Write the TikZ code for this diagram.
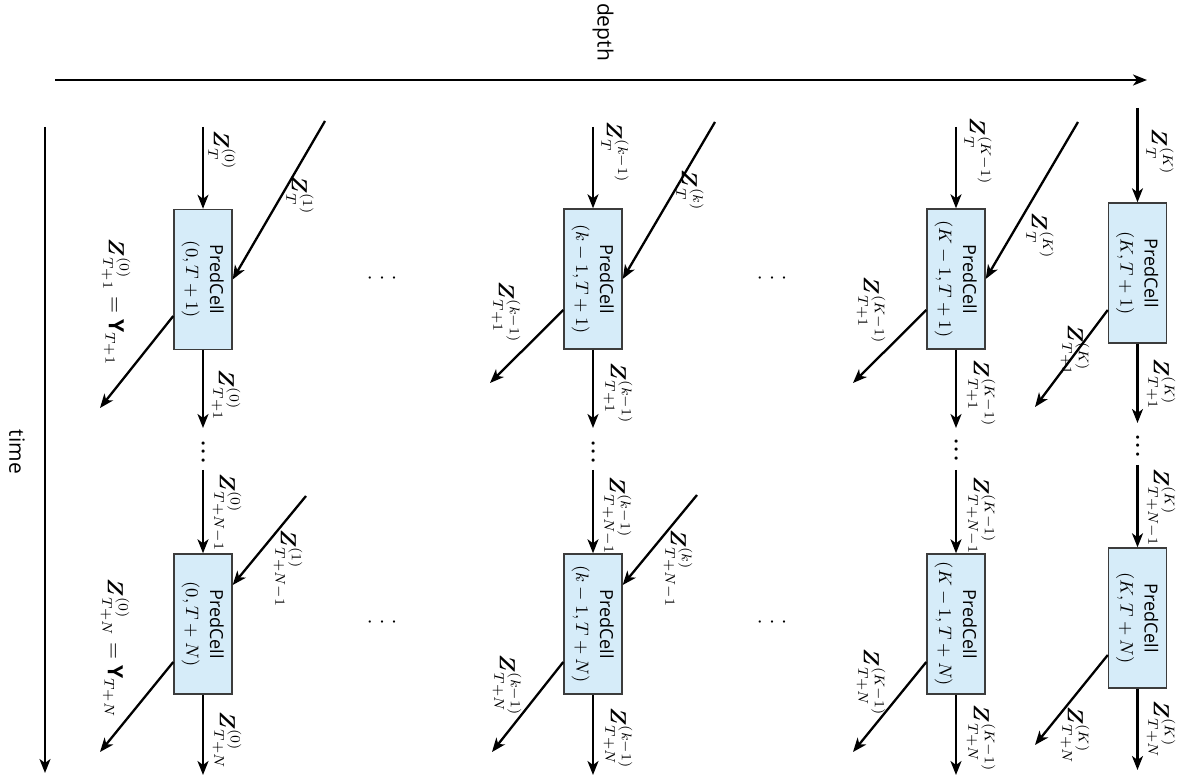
\documentclass[tikz,border=0pt]{standalone}
\usepackage{amsmath}
\usepackage{fontspec}
\setmainfont{Open Sans}
\usetikzlibrary{arrows.meta}

\definecolor{cellblue}{RGB}{214,236,249}
\definecolor{celledge}{RGB}{60,60,60}

% three round dots: #1 = dot scale, #2 = gap
\newcommand\dotrun[2]{\hbox{\scalebox{#1}{$\bullet$}\kern#2\scalebox{#1}{$\bullet$}\kern#2\scalebox{#1}{$\bullet$}}}
% contents of one prediction cell, turned a quarter clockwise
\newcommand\cellbody[1]{\rotatebox{-90}{\fontsize{9}{12}\selectfont
  \begin{tabular}{@{}c@{}}PredCell\\$#1$\end{tabular}}}
\newcommand\Zv{\boldsymbol{Z}}

\begin{document}
\begin{tikzpicture}[x=0.5pt,y=-0.5pt,
  arr/.style={line width=1.15pt,-{Stealth[length=7pt,width=5.5pt,inset=2pt]}},
  cell/.style={draw=celledge,fill=cellblue,line width=0.7pt,
    minimum width=29pt,minimum height=70pt,inner sep=0pt},
  lbl/.style={rotate=-90,inner sep=0pt,font=\fontsize{10.5}{12}\selectfont},
  axislbl/.style={rotate=-90,inner sep=0pt,font=\fontsize{10.5}{12}\selectfont},
  vdotsnode/.style={rotate=-90,inner sep=0pt},
  hdotsnode/.style={inner sep=0pt}]
\useasboundingbox (0,0) rectangle (1180,780);

% axes
\coordinate (depthL) at (55,80);
\coordinate (depthR) at (1147,80);
\draw[arr] (depthL) -- (depthR);
\node[axislbl] (depthlbl) at (603,32) {depth};
\coordinate (timeT) at (45,127);
\coordinate (timeB) at (45,773);
\draw[arr] (timeT) -- (timeB);
\node[axislbl] (timelbl) at (17,452) {time};

% cells
\node[cell] (b0a)  at (203,279.5)  {\cellbody{(0, T+1)}};
\node[cell] (b0b)  at (203,624)    {\cellbody{(0, T+N)}};
\node[cell] (bka)  at (593,279)    {\cellbody{(k-1, T+1)}};
\node[cell] (bkb)  at (593,624)    {\cellbody{(k-1, T+N)}};
\node[cell] (bKma) at (956,279)    {\cellbody{(K-1,T+1)}};
\node[cell] (bKmb) at (956,624)    {\cellbody{(K-1,T+N)}};
\node[cell] (bKa)  at (1137.5,273) {\cellbody{(K, T+1)}};
\node[cell] (bKb)  at (1137.5,618) {\cellbody{(K, T+N)}};

% vertical chains along time
\foreach \c/\x/\yt/\ym/\yd/\yn/\yb in {0/203/127/428/452/470/775,
    k/593/127/428/452/470/775, Km/956/127/428/450/470/775,
    K/1137.5/108/423/446/465/770}{
  \coordinate (top\c) at (\x,\yt);
  \coordinate (midA\c) at (\x,\ym);
  \coordinate (midB\c) at (\x,\yn);
  \coordinate (bot\c) at (\x,\yb);
  \draw[arr] (top\c) -- (b\c a);
  \draw[arr] (b\c a) -- (midA\c);
  \node[vdotsnode] (dots\c) at (\x,\yd) {\dotrun{0.42}{2.1pt}};
  \draw[arr] (midB\c) -- (b\c b);
  \draw[arr] (b\c b) -- (bot\c);
}

% incoming diagonals
\coordinate (in0a) at (325,121);
\coordinate (in0b) at (306,496);
\coordinate (inka) at (715,122);
\coordinate (inkb) at (697,495);
\coordinate (inKma) at (1078,122);
\draw[arr] (in0a) -- (b0a.east);
\draw[arr] (in0b) -- ([yshift=19.5pt]b0b.east);
\draw[arr] (inka) -- (bka.east);
\draw[arr] (inkb) -- ([yshift=19.5pt]bkb.east);
\draw[arr] (inKma) -- (bKma.east);

% outgoing diagonals
\coordinate (out0a) at (100,408);
\coordinate (out0b) at (100,752);
\coordinate (outka) at (490,383);
\coordinate (outkb) at (492,752);
\coordinate (outKma) at (853,383);
\coordinate (outKmb) at (853,752);
\coordinate (outKa) at (1035,407);
\coordinate (outKb) at (1035,745);
\draw[arr] ([yshift=-18.25pt]b0a.west) -- (out0a);
\draw[arr] ([yshift=-19pt]b0b.west) -- (out0b);
\draw[arr] ([yshift=-15.5pt]bka.west) -- (outka);
\draw[arr] ([yshift=-19pt]bkb.west) -- (outkb);
\draw[arr] ([yshift=-15.5pt]bKma.west) -- (outKma);
\draw[arr] ([yshift=-19pt]bKmb.west) -- (outKmb);
\draw[arr] ([yshift=-18.5pt]bKa.west) -- (outKa);
\draw[arr] ([yshift=-18.5pt]bKb.west) -- (outKb);

% dots between depth columns
\node[hdotsnode] (gap1a) at (382,278) {\dotrun{0.3}{4.6pt}};
\node[hdotsnode] (gap1b) at (382,622) {\dotrun{0.3}{4.6pt}};
\node[hdotsnode] (gap2a) at (772,278) {\dotrun{0.3}{4.6pt}};
\node[hdotsnode] (gap2b) at (772,622) {\dotrun{0.3}{4.6pt}};

% labels, column 0
\node[lbl] (l0a1) at (222,150) {$\Zv_T^{(0)}$};
\node[lbl] (l0a2) at (300,195) {$\Zv_T^{(1)}$};
\node[lbl] (l0a3) at (116,302) {$\Zv_{T+1}^{(0)} = \mathbf{Y}_{T+1}$};
\node[lbl] (l0a4) at (226,395) {$\Zv_{T+1}^{(0)}$};
\node[lbl] (l0b1) at (227,512) {$\Zv_{T+N-1}^{(0)}$};
\node[lbl] (l0b2) at (288,568) {$\Zv_{T+N-1}^{(1)}$};
\node[lbl] (l0b3) at (115,648) {$\Zv_{T+N}^{(0)} = \mathbf{Y}_{T+N}$};
\node[lbl] (l0b4) at (227,740) {$\Zv_{T+N}^{(0)}$};

% labels, column k-1
\node[lbl] (lka1) at (615,152) {$\Zv_T^{(k-1)}$};
\node[lbl] (lka2) at (690,190) {$\Zv_T^{(k)}$};
\node[lbl] (lka3) at (506,312) {$\Zv_{T+1}^{(k-1)}$};
\node[lbl] (lka4) at (618,393) {$\Zv_{T+1}^{(k-1)}$};
\node[lbl] (lkb1) at (617,515) {$\Zv_{T+N-1}^{(k-1)}$};
\node[lbl] (lkb2) at (678,568) {$\Zv_{T+N-1}^{(k)}$};
\node[lbl] (lkb3) at (507,685) {$\Zv_{T+N}^{(k-1)}$};
\node[lbl] (lkb4) at (618,738) {$\Zv_{T+N}^{(k-1)}$};

% labels, column K-1
\node[lbl] (lKma1) at (978,151) {$\Zv_T^{(K-1)}$};
\node[lbl] (lKma2) at (1040,236) {$\Zv_T^{(K)}$};
\node[lbl] (lKma3) at (871,310) {$\Zv_{T+1}^{(K-1)}$};
\node[lbl] (lKma4) at (981,393) {$\Zv_{T+1}^{(K-1)}$};
\node[lbl] (lKmb1) at (981,515) {$\Zv_{T+N-1}^{(K-1)}$};
\node[lbl] (lKmb3) at (871,682) {$\Zv_{T+N}^{(K-1)}$};
\node[lbl] (lKmb4) at (981,738) {$\Zv_{T+N}^{(K-1)}$};

% labels, column K
\node[lbl] (lKa1) at (1160,152) {$\Zv_T^{(K)}$};
\node[lbl] (lKa3) at (1075,350) {$\Zv_{T+1}^{(K)}$};
\node[lbl] (lKa4) at (1161,384) {$\Zv_{T+1}^{(K)}$};
\node[lbl] (lKb1) at (1161,507) {$\Zv_{T+N-1}^{(K)}$};
\node[lbl] (lKb3) at (1075,735) {$\Zv_{T+N}^{(K)}$};
\node[lbl] (lKb4) at (1161,729) {$\Zv_{T+N}^{(K)}$};
\end{tikzpicture}
\end{document}
